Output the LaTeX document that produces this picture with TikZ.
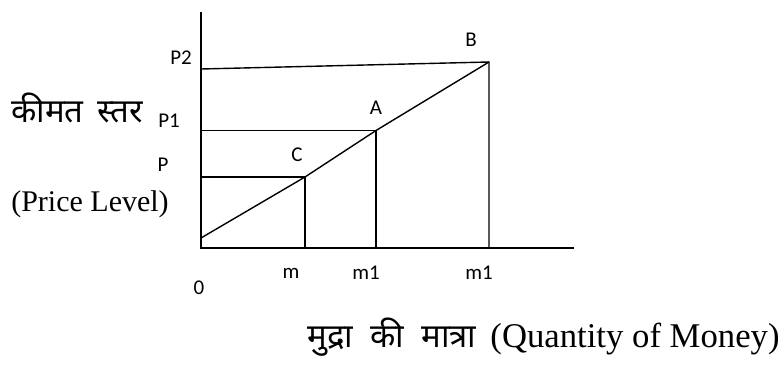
\documentclass[tikz,border=0pt]{standalone}
\usepackage{fontspec}
\setmainfont{Liberation Serif}
\newfontfamily\hindi[Script=Devanagari]{Noto Sans}
\newfontfamily\lblfont{Carlito}
\usetikzlibrary{positioning}

\begin{document}
\begin{tikzpicture}[
  x=1pt, y=-1pt,
  rekha/.style={line width=1.4pt},
  bindu/.style={font=\lblfont\fontsize{21}{23}\selectfont, inner sep=0pt},
  shirshak/.style={font=\fontsize{30}{34}\selectfont, inner sep=0pt}
]
\useasboundingbox (0,0) rectangle (784,366);

% axes
\coordinate (O) at (201,248);
\coordinate (ytop) at (201,12);
\coordinate (xend) at (574,248);
\draw[rekha] (ytop) -- (O) -- (xend);

% points on the line
\coordinate (start) at (201,238);
\coordinate (C) at (305,177);
\coordinate (A) at (376,130.5);
\coordinate (B) at (489,62);
\coordinate (pC) at (201,177);
\coordinate (pA) at (201,130.5);
\coordinate (pB) at (201,69);
\coordinate (mC) at (305,248);
\coordinate (mA) at (376,248);
\coordinate (mB) at (489,248);

\draw[rekha] (start) -- (C) -- (A) -- (B);
\draw[rekha] (pC) -- (C) -- (mC);
\draw[rekha] (pA) -- (A) -- (mA);
\draw[rekha] (pB) -- (B) -- (mB);

% labels
\node[bindu] (lP2) at (181,58) {P2};
\node[bindu] (lP1) at (169,121) {P1};
\node[bindu] (lP) at (163,165) {P};
\node[bindu] (lB) at (471,40) {B};
\node[bindu] (lA) at (376,108) {A};
\node[bindu] (lC) at (297,155) {C};
\node[bindu] (lm) at (291,273) {m};
\node[bindu] (lm1) at (366,273) {m1};
\node[bindu] (lm2) at (479,273) {m1};
\node[bindu] (lO) at (199,288) {0};

\node[shirshak, font=\hindi\fontsize{33}{36}\selectfont] (kimat) at (77,108) {कीमत\hspace{14pt}स्तर};
\node[shirshak] (price) at (90,204) {(Price Level)};
\node[shirshak, font=\fontsize{34.7}{38}\selectfont] (mudra) at (543.5,337)
  {{\hindi\fontsize{33}{36}\selectfont मुद्रा\ \ की\ \ मात्रा}\hspace{14pt}(Quantity of Money)};
\end{tikzpicture}
\end{document}
